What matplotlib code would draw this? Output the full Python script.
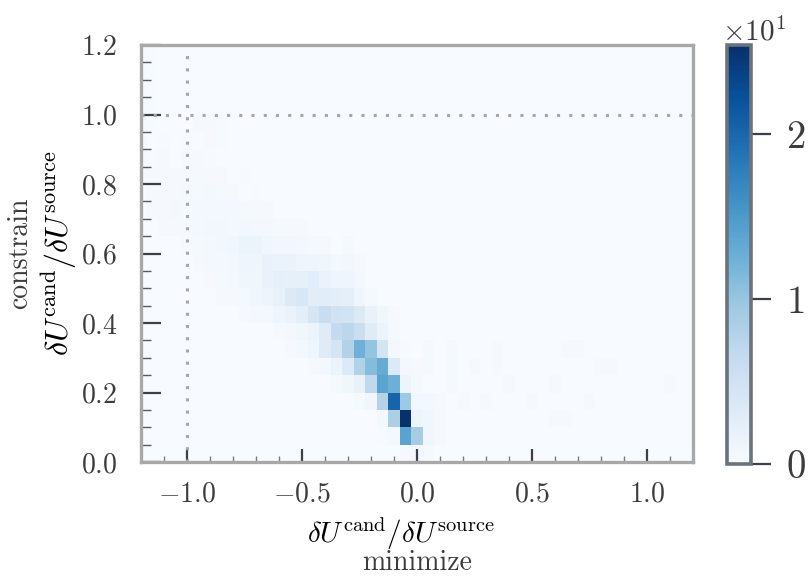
import numpy as np
import matplotlib
matplotlib.use("Agg")
import matplotlib.pyplot as plt
from matplotlib.ticker import MultipleLocator

plt.rcParams.update({
    "font.family": "serif",
    "font.serif": ["cmr10"],
    "mathtext.fontset": "cm",
    "axes.formatter.use_mathtext": True,
    "axes.unicode_minus": True,
    "text.color": "#3c3c3c",
    "xtick.color": "#3c3c3c",
    "ytick.color": "#3c3c3c",
})

# histogram grid: 0.05-wide bins, x bins centred on multiples of 0.05
x_edges = np.linspace(-1.225, 1.225, 50)
y_edges = np.linspace(0.0, 1.2, 25)
bin_w = 0.05

# main band, one entry per y-row: x centre of the first bin and the bin values
row_index = list(range(24))
row_first_x = [-0.05, -0.15, -0.15, -0.25, -0.35, -0.45, -0.55, -0.60,
               -0.75, -0.85, -0.90, -0.95, -1.00, -1.10, -1.15, -1.15,
               -1.20, -1.20, -1.20, -1.20, -1.20, -1.20, -1.20, -1.20]
row_values = [
    [0.3, 0.5, 0.3],
    [0.2, 0.5, 14.0, 9.0, 0.5, 0.3],
    [0.6, 8.5, 25.4, 1.3, 0.6, 0.3],
    [0.4, 1.0, 7.8, 20.3, 9.6, 0.8, 0.5],
    [0.4, 1.0, 2.0, 6.8, 13.8, 12.6, 1.3, 0.4],
    [0.3, 0.5, 1.5, 3.5, 8.0, 11.2, 13.0, 3.5, 0.5, 0.3],
    [0.3, 0.6, 1.2, 3.0, 4.4, 8.0, 12.5, 10.2, 4.6, 0.5, 0.2],
    [0.3, 0.5, 1.0, 1.5, 3.0, 6.5, 7.2, 5.8, 3.0, 1.4, 0.4],
    [0.3, 0.5, 0.6, 1.2, 1.6, 2.6, 4.3, 6.0, 4.9, 4.8, 3.4, 1.8, 1.0, 0.3],
    [0.3, 0.3, 0.4, 1.0, 1.3, 2.0, 3.4, 4.0, 2.7, 2.8, 2.6, 2.4, 1.2, 0.4],
    [0.3, 0.4, 0.5, 1.0, 1.0, 1.8, 2.4, 2.2, 2.2, 2.8, 1.6, 1.2, 1.2, 0.5],
    [0.3, 0.5, 0.6, 0.8, 1.2, 1.2, 1.8, 1.7, 1.7, 1.2, 1.1, 1.0, 0.5, 0.7, 0.3],
    [0.3, 0.4, 0.6, 0.8, 1.0, 1.5, 1.5, 1.0, 0.8, 0.8, 0.6, 0.4, 0.3, 0.0, 0.4],
    [0.3, 0.3, 0.4, 0.5, 0.7, 0.8, 0.6, 0.8, 0.6, 0.5, 0.4, 0.3, 0.3],
    [0.3, 0.3, 0.5, 0.4, 0.6, 0.6, 0.5, 0.5, 0.4, 0.3, 0.3],
    [0.3, 0.4, 0.3, 0.5, 0.4, 0.5, 0.4, 0.3, 0.0, 0.2],
    [0.3, 0.3, 0.3, 0.3, 0.3, 0.4, 0.3, 0.3, 0.0, 0.2],
    [0.3, 0.2, 0.3, 0.0, 0.3, 0.3, 0.2],
    [0.3, 0.0, 0.2, 0.0, 0.2, 0.0, 0.3, 0.2],
    [0.2, 0.2, 0.0, 0.0, 0.0, 0.3, 0.3, 0.2],
    [0.2, 0.2],
    [0.3, 0.2],
    [0.3, 0.2],
    [0.3, 0.2],
]

# sparse faint bins to the right of the band
sparse_x = [0.05, 0.05, 0.05, 0.05, 0.15, 0.15, 0.15, 0.10, 0.20, 0.25, 0.35,
            0.35, 0.40, 0.30, 0.50, 0.60, 0.60, 0.65, 0.70, 0.65, 0.75, 0.80,
            0.85, 1.10]
sparse_y = [0.275, 0.325, 0.075, 0.125, 0.225, 0.275, 0.325, 0.175, 0.175,
            0.275, 0.275, 0.325, 0.225, 0.175, 0.175, 0.225, 0.125, 0.125,
            0.325, 0.325, 0.175, 0.275, 0.275, 0.225]
sparse_w = [0.4, 0.4, 0.4, 0.4, 0.4, 0.4, 0.4, 0.3, 0.3, 0.3, 0.3,
            0.3, 0.3, 0.3, 0.3, 0.3, 0.4, 0.3, 0.3, 0.3, 0.3, 0.3,
            0.3, 0.3]

cell_x, cell_y, cell_w = [], [], []
for j, x0, vals in zip(row_index, row_first_x, row_values):
    for k, v in enumerate(vals):
        cell_x.append(x0 + k * bin_w)
        cell_y.append(y_edges[j] + bin_w / 2)
        cell_w.append(v)
cell_x += sparse_x
cell_y += sparse_y
cell_w += sparse_w

fig = plt.figure(figsize=(8.11, 5.77), dpi=100)
ax = fig.add_axes([0.1739, 0.1993, 0.6806, 0.7227])
cax = fig.add_axes([0.8964, 0.1958, 0.0296, 0.7262])

counts, _, _, mesh = ax.hist2d(cell_x, cell_y, bins=[x_edges, y_edges],
                               weights=cell_w, cmap="Blues", vmin=0)

ax.axvline(-1.0, color="#a6a6a6", lw=2.2, ls=(0, (1, 3)))
ax.axhline(1.0, color="#a6a6a6", lw=2.2, ls=(0, (1, 3)))

ax.set_xlim(-1.2, 1.2)
ax.set_ylim(0.0, 1.2)
ax.xaxis.set_major_locator(MultipleLocator(0.5))
ax.xaxis.set_minor_locator(MultipleLocator(0.1))
ax.yaxis.set_major_locator(MultipleLocator(0.2))
ax.yaxis.set_minor_locator(MultipleLocator(0.05))
ax.xaxis.set_major_formatter(plt.FormatStrFormatter("$%.1f$"))
ax.yaxis.set_major_formatter(plt.FormatStrFormatter("$%.1f$"))

ax.tick_params(axis="x", which="major", direction="in", length=9.5, width=1.6,
               color="#3b3f48", labelsize=20, pad=14)
ax.tick_params(axis="x", which="minor", direction="in", length=4.3, width=1.0,
               color="#7a7a7a")
ax.tick_params(axis="y", which="major", direction="in", length=14.4, width=1.6,
               color="#3b3f48", labelsize=20, pad=17)
ax.tick_params(axis="y", which="minor", direction="in", length=7.0, width=1.0,
               color="#5a5a5a")

for sp in ax.spines.values():
    sp.set_color("#a8a8a8")
    sp.set_linewidth(2.4)

ratio = "$\\delta U^{\\rm cand}/\\delta U^{\\rm source}$"
ax.set_xlabel(ratio, fontsize=21, va="center")
ax.xaxis.set_label_coords(0.47, -0.172)
ax.text(0.5, -0.243, "minimize", transform=ax.transAxes, fontsize=20,
        ha="center", va="center")
ax.set_ylabel(ratio, fontsize=23, va="center")
ax.yaxis.set_label_coords(-0.149, 0.5)
ax.text(-0.219, 0.5, "constrain", transform=ax.transAxes, fontsize=20,
        rotation=90, ha="center", va="center", rotation_mode="anchor")

cbar = fig.colorbar(mesh, cax=cax)
cbar.set_ticks([0, 10, 20])
cbar.formatter.set_powerlimits((0, 0))
cbar.formatter.set_useMathText(True)
cbar.update_ticks()
cbar.outline.set_edgecolor("#6b737c")
cbar.outline.set_linewidth(2.6)
cax.tick_params(direction="out", length=14.4, width=1.6, color="#3b3f48",
                labelsize=28, pad=11)
offset = cax.yaxis.get_offset_text()
offset.set_fontsize(21)
offset.set_horizontalalignment("left")
offset.set_x(-0.2)

fig.savefig("out.png", dpi=100)
